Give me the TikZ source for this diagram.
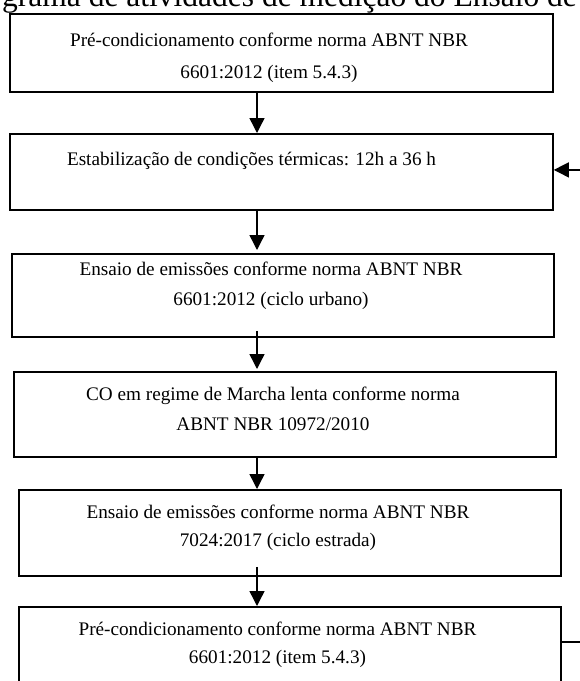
\documentclass[tikz,border=0pt]{standalone}
\usepackage{fontspec}
\setmainfont{Liberation Serif}
\usetikzlibrary{arrows.meta,positioning}
\tikzset{
  etapa/.style={draw, line width=1.8pt, inner sep=0pt, anchor=north west},
  texto/.style={font=\fontsize{19.2}{30}\selectfont, align=center, inner sep=0pt, anchor=north},
  seta/.style={line width=1.4pt, -{Triangle[length=15pt,width=15pt]}}
}
\begin{document}
\begin{tikzpicture}[x=1pt,y=-1pt]
  \useasboundingbox (0,0) rectangle (580,681);
  \clip (0,0) rectangle (580,681);
  % titulo (cortado no topo)
  \node[font=\fontsize{31.5}{36}\selectfont, inner sep=0pt, anchor=base west] (titulo) at (2,6) {grama de atividades de medição do Ensaio de};
  % caixas
  \node[etapa, minimum width=543pt, minimum height=78pt] (pre1) at (9,13) {};
  \node[etapa, minimum width=543pt, minimum height=76pt] (estab) at (9,133) {};
  \node[etapa, minimum width=542pt, minimum height=83pt] (ensaio1) at (11,253) {};
  \node[etapa, minimum width=542pt, minimum height=85pt] (marcha) at (13,371) {};
  \node[etapa, minimum width=542pt, minimum height=86pt] (ensaio2) at (18,489) {};
  \node[etapa, minimum width=542pt, minimum height=86pt] (pre2) at (18,606) {};
  % textos
  \node[texto] (pre1t) at (269,32.5) {Pré-condicionamento conforme norma ABNT NBR\\[2pt] 6601:2012 (item 5.4.3)};
  \node[texto] (estabt) at (251.5,151.5) {Estabilização de condições térmicas: 12h a 36 h};
  \node[texto] (ensaio1t) at (271,262) {Ensaio de emissões conforme norma ABNT NBR\\ 6601:2012 (ciclo urbano)};
  \node[texto] (marchat) at (273,386.5) {CO em regime de Marcha lenta conforme norma\\ ABNT NBR 10972/2010};
  \node[texto] (ensaio2t) at (278,504.5) {Ensaio de emissões conforme norma ABNT NBR\\[-2pt] 7024:2017 (ciclo estrada)};
  \node[texto] (pre2t) at (277.5,621.5) {Pré-condicionamento conforme norma ABNT NBR\\[-2pt] 6601:2012 (item 5.4.3)};
  % setas
  \coordinate (eixo) at (257,0);
  \draw[seta] (pre1.south -| eixo) -- (estab.north -| eixo);
  \draw[seta] (estab.south -| eixo) -- ([yshift=3pt]ensaio1.north -| eixo);
  \draw[seta] ([yshift=7pt]ensaio1.south -| eixo) -- ([yshift=2pt]marcha.north -| eixo);
  \draw[seta] (marcha.south -| eixo) -- (ensaio2.north -| eixo);
  \draw[seta] ([yshift=10pt]ensaio2.south -| eixo) -- (pre2.north -| eixo);
  % retorno
  \draw[seta] ([yshift=8pt]pre2.east) -- ++(40,0) |- ([yshift=2pt]estab.east);
\end{tikzpicture}
\end{document}
